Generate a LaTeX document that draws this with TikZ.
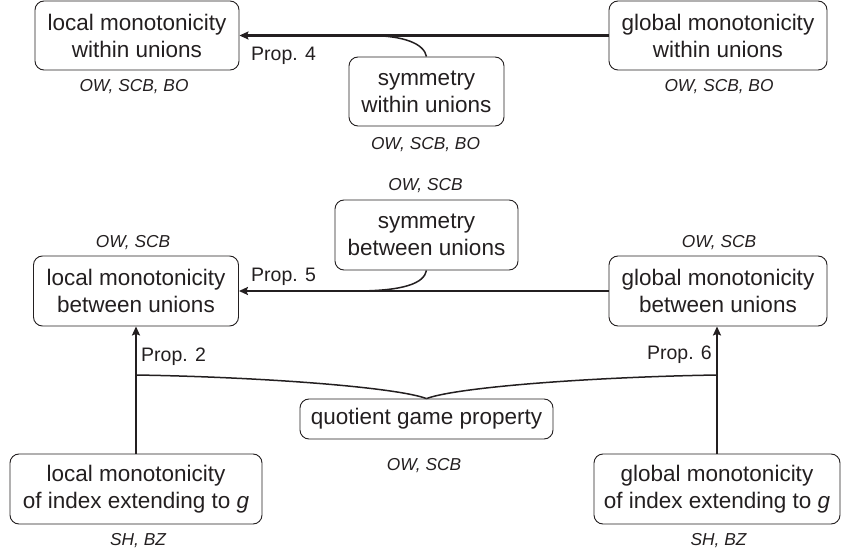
\documentclass[tikz,border=0pt]{standalone}
\usepackage{fontspec}
\setmainfont{Liberation Sans}
\usetikzlibrary{arrows.meta}
\definecolor{ink}{HTML}{231F20}
\begin{document}
\begin{tikzpicture}[x=1pt,y=-1pt,
  box/.style={draw=ink, line width=0.9pt, rounded corners=9pt, align=center, inner sep=0pt, text=ink, font=\fontsize{22.5}{27}\selectfont},
  lab/.style={anchor=base, text=ink, inner sep=0pt, font=\fontsize{17.3}{20}\selectfont\itshape},
  prop/.style={anchor=base west, text=ink, inner sep=0pt, font=\fontsize{19.5}{23}\selectfont},
  main/.style={draw=ink, line width=2.5pt, -{Stealth[length=9pt,width=8pt,inset=1.5pt]}},
  thinline/.style={draw=ink, line width=1.5pt},
]
\useasboundingbox (0,0) rectangle (841,556);

\node[box, minimum width=204pt, minimum height=69pt] (lwu) at (137,35.5) {local monotonicity\\within unions};
\node[box, minimum width=218pt, minimum height=69pt] (gwu) at (718,35.5) {global monotonicity\\within unions};
\node[box, minimum width=155pt, minimum height=69pt] (swu) at (426.5,91.5) {symmetry\\within unions};
\node[box, minimum width=183pt, minimum height=70pt] (sbu) at (426.5,235) {symmetry\\between unions};
\node[box, minimum width=205pt, minimum height=70pt] (lbu) at (136,291) {local monotonicity\\between unions};
\node[box, minimum width=218pt, minimum height=70pt] (gbu) at (718,291) {global monotonicity\\between unions};
\node[box, minimum width=253pt, minimum height=40pt] (qgp) at (426.5,419) {quotient game property};
\node[box, minimum width=252pt, minimum height=70pt] (lix) at (136,489) {local monotonicity\\of index extending to \textit{g}};
\node[box, minimum width=246pt, minimum height=70pt] (gix) at (717,489) {global monotonicity\\of index extending to \textit{g}};

\node[lab] (l1) at (134,92) {OW, SCB, BO};
\node[lab] (l2) at (719,92) {OW, SCB, BO};
\node[lab] (l3) at (425.5,150) {OW, SCB, BO};
\node[lab] (l4) at (425.5,190.5) {OW, SCB};
\node[lab] (l5) at (133,248) {OW, SCB};
\node[lab] (l6) at (719,248) {OW, SCB};
\node[lab] (l7) at (424,470) {OW, SCB};
\node[lab] (l8) at (138,545) {SH, BZ};
\node[lab] (l9) at (718.5,545) {SH, BZ};

\node[prop] (p4) at (251,60.5) {Prop. 4};
\node[prop] (p5) at (251,282) {Prop. 5};
\node[prop] (p2) at (141,361) {Prop. 2};
\node[prop, anchor=base east] (p6) at (712,359) {Prop. 6};

\draw[main] (gwu.west) -- (lwu.east);
\coordinate (j4) at (368,35.5);
\draw[thinline] (swu.north) .. controls (424,44) and (405,35.5) .. (j4);
\draw[main] (gbu.west) -- (lbu.east);
\coordinate (j5) at (355,291);
\draw[thinline] (sbu.south) .. controls (424,283) and (405,291) .. (j5);
\draw[main] (lix.north) -- (lbu.south);
\draw[main] (gix.north) -- (gix.north |- gbu.south);

\coordinate (b2) at (136,375);
\coordinate (b6) at (717,375);
\draw[thinline] (b2) .. controls (260,377) and (395,387) .. (qgp.north);
\draw[thinline] (b6) .. controls (593,377) and (458,387) .. (qgp.north);
\end{tikzpicture}
\end{document}
